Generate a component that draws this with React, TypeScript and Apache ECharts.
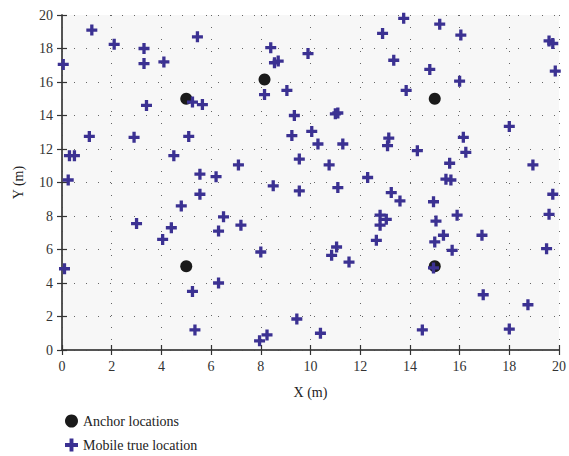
import React, { useEffect, useRef } from "react";
import * as echarts from "echarts";

const anchorPoints: number[][] = [
  [5, 15], [8.15, 16.15], [15, 15], [5, 5], [15, 5],
];

const mobilePoints: number[][] = [
  [1.2, 19.1], [2.1, 18.25], [3.3, 18.0], [0.05, 17.05], [3.3, 17.1], [4.1, 17.2],
  [5.45, 18.7], [5.25, 14.8], [5.65, 14.65], [3.4, 14.6], [1.1, 12.75], [2.9, 12.7],
  [5.1, 12.75], [0.3, 11.6], [0.5, 11.6], [4.5, 11.6], [0.25, 10.15], [5.55, 10.5],
  [6.2, 10.35], [12.9, 18.9], [8.4, 18.05], [9.9, 17.7], [8.55, 17.15], [8.7, 17.25],
  [8.15, 15.25], [9.05, 15.5], [9.35, 14.0], [11.0, 14.1], [11.1, 14.15], [9.25, 12.8],
  [10.05, 13.05], [10.3, 12.3], [11.3, 12.3], [13.1, 12.2], [13.15, 12.65], [9.55, 11.4],
  [10.75, 11.05], [7.1, 11.05], [12.3, 10.3], [13.75, 19.8], [15.2, 19.45], [16.05, 18.8],
  [19.6, 18.45], [19.75, 18.3], [13.35, 17.3], [14.8, 16.75], [19.85, 16.65], [16.0, 16.05],
  [13.85, 15.5], [18.0, 13.35], [16.15, 12.7], [14.3, 11.9], [16.25, 11.8], [18.95, 11.05],
  [15.6, 11.15], [15.45, 10.2], [15.65, 10.15], [3.0, 7.55], [4.8, 8.6], [5.55, 9.3],
  [4.4, 7.3], [4.05, 6.6], [0.1, 4.85], [5.25, 3.5], [5.35, 1.2], [6.3, 7.1],
  [6.5, 7.95], [6.3, 4.0], [8.5, 9.8], [9.55, 9.5], [11.1, 9.7], [7.2, 7.45],
  [8.0, 5.85], [11.05, 6.15], [10.85, 5.65], [11.55, 5.25], [12.65, 6.55], [12.8, 8.05],
  [12.8, 7.45], [13.05, 7.8], [9.45, 1.85], [10.4, 1.0], [7.95, 0.55], [8.25, 0.9],
  [13.25, 9.4], [13.6, 8.9], [14.95, 8.85], [15.05, 7.7], [15.9, 8.05], [15.35, 6.85],
  [15.0, 6.45], [15.7, 5.95], [16.9, 6.85], [14.95, 4.9], [19.75, 9.3], [19.6, 8.1],
  [19.5, 6.05], [16.95, 3.3], [18.75, 2.7], [14.5, 1.2], [18.0, 1.25],
];

const seriesNames = ["Anchor locations", "Mobile true location"];
const axisNames = ["X (m)", "Y (m)"];

const PLUS = "path://M3.5,0H6.5V3.5H10V6.5H6.5V10H3.5V6.5H0V3.5H3.5Z";
const FONT = "Liberation Serif";
const BLUE = "#3b3192";

export default function App() {
  const ref = useRef<HTMLDivElement>(null);
  useEffect(() => {
    if (!ref.current) return;
    const chart = echarts.init(ref.current, undefined, { renderer: "svg" });
    const gridLine = { show: true, lineStyle: { color: "#666", width: 1, type: [1, 11] as any } };
    const axisLine = { show: true, lineStyle: { color: "#4a4a4a", width: 1.5 } };
    const axisTick = { show: true, inside: true, length: 5, lineStyle: { color: "#333", width: 1.2 } };
    const label = { fontFamily: FONT, fontSize: 14, color: "#333" };
    const legendText = { fontFamily: FONT, fontSize: 14, color: "#222" };
    chart.setOption({
      animation: false,
      backgroundColor: "#fff",
      grid: {
        left: 62, right: 4, top: 15, bottom: 106,
        show: true, backgroundColor: "#f7f7f7", borderWidth: 0,
      },
      legend: [
        {
          left: 60, top: 409, itemWidth: 13, itemHeight: 13,
          textStyle: legendText,
          data: [{ name: seriesNames[0], icon: "circle", itemStyle: { color: "#1a1a1a" } }],
        },
        {
          left: 60, top: 433, itemWidth: 13, itemHeight: 13,
          textStyle: legendText,
          data: [{ name: seriesNames[1], icon: PLUS, itemStyle: { color: BLUE } }],
        },
      ],
      xAxis: [
        {
          type: "value", min: 0, max: 20, interval: 2, position: "bottom",
          name: axisNames[0], nameLocation: "middle", nameGap: 35,
          nameTextStyle: { fontFamily: FONT, fontSize: 14, color: "#222" },
          axisLine, axisTick, axisLabel: { ...label, margin: 9 }, splitLine: gridLine,
        },
        {
          type: "value", min: 0, max: 20, interval: 2, position: "top",
          axisLine, axisTick, axisLabel: { show: false }, splitLine: { show: false },
        },
      ],
      yAxis: [
        {
          type: "value", min: 0, max: 20, interval: 2, position: "left",
          name: axisNames[1], nameLocation: "middle", nameGap: 37,
          nameTextStyle: { fontFamily: FONT, fontSize: 14, color: "#222" },
          axisLine, axisTick, axisLabel: { ...label, margin: 9 }, splitLine: gridLine,
        },
        {
          type: "value", min: 0, max: 20, interval: 2, position: "right",
          axisLine, axisTick, axisLabel: { show: false }, splitLine: { show: false },
        },
      ],
      series: [
        {
          name: seriesNames[0], type: "scatter", symbol: "circle", symbolSize: 12,
          itemStyle: { color: "#1a1a1a", opacity: 1 }, data: anchorPoints, z: 2,
        },
        {
          name: seriesNames[1], type: "scatter", symbol: PLUS, symbolSize: 11,
          itemStyle: { color: BLUE, opacity: 1 }, data: mobilePoints, z: 3,
        },
      ],
    });
    return () => chart.dispose();
  }, []);
  return <div ref={ref} style={{ width: 569, height: 456, position: "absolute", left: 0, top: 0 }} />;
}
